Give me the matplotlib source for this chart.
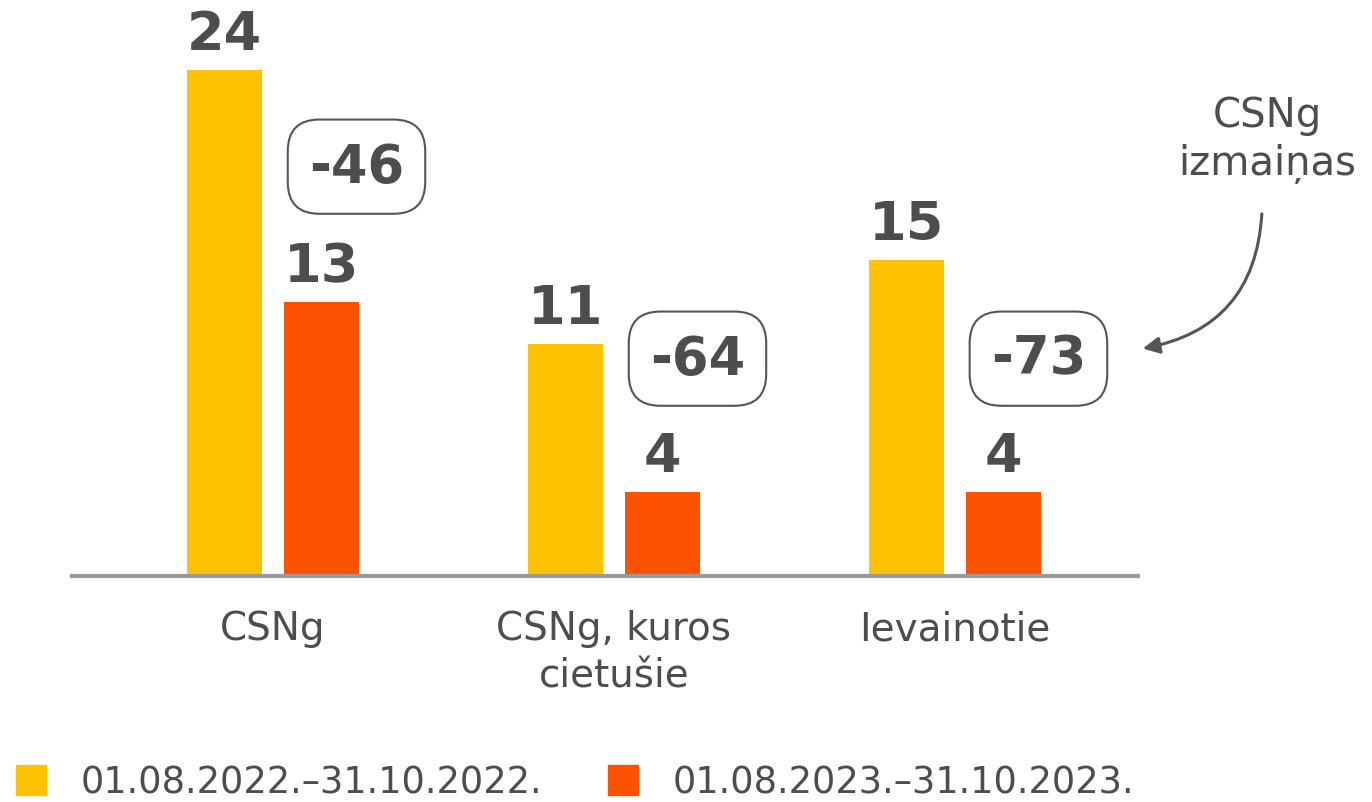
import matplotlib.pyplot as plt
from matplotlib.lines import Line2D
import numpy as np

# Data
kategorijas = ['CSNg', 'CSNg, kuros\ncietušie', 'Ievainotie']
periods_2022 = [24, 11, 15]
periods_2023 = [13, 4, 4]
izmainas = ['-46', '-64', '-73']
legendas = ['01.08.2022.–31.10.2022.', '01.08.2023.–31.10.2023.']

dzeltena = '#FFC200'
oranza = '#FF5200'
teksts = '#4d4d4d'

plt.rcParams['font.family'] = ['DejaVu Sans']

W, H = 1372, 803
fig = plt.figure(figsize=(W / 100, H / 100), dpi=100)
ax = fig.add_axes([72 / W, (H - 577) / H, 1066 / W, 577 / H])

x = np.arange(len(kategorijas))
plat = 0.22
nob = 0.142
ax.bar(x - nob, periods_2022, plat, color=dzeltena)
ax.bar(x + nob, periods_2023, plat, color=oranza)

# vērtības virs stabiņiem
for xi, v in zip(x - nob, periods_2022):
    ax.annotate(str(v), (xi, v), xytext=(0, 7), textcoords='offset points',
                ha='center', va='bottom', fontsize=39, weight='bold', color=teksts)
for xi, v in zip(x + nob, periods_2023):
    ax.annotate(str(v), (xi, v), xytext=(0, 7), textcoords='offset points',
                ha='center', va='bottom', fontsize=39, weight='bold', color=teksts)

# izmaiņu rāmīši
kastes_y = [19.4, 10.3, 10.3]
for xi, t, yk in zip(x, izmainas, kastes_y):
    ax.text(xi + 0.245, yk, t, ha='center', va='center', fontsize=38,
            weight='bold', color=teksts,
            bbox=dict(boxstyle='round,pad=0.4,rounding_size=0.6',
                      fc='white', ec='#555555', lw=1.5))

ax.set_xlim(-0.5894, 2.537)
ax.set_ylim(0, 577 / 21.1)
ax.set_xticks(x)
ax.set_xticklabels(kategorijas, fontsize=28, color=teksts, linespacing=1.3)
ax.tick_params(axis='x', length=0, pad=24)
ax.set_yticks([])
for s in ['top', 'right', 'left']:
    ax.spines[s].set_visible(False)
ax.spines['bottom'].set_color('#999999')
ax.spines['bottom'].set_linewidth(3)

# anotācija labajā pusē
fig.text(1267 / W, 1 - 140 / H, 'CSNg\nizmaiņas', ha='center', va='center',
         fontsize=29, color=teksts, linespacing=1.25)
ax.annotate('', xy=(1140, H - 350), xycoords='figure pixels',
            xytext=(1262, H - 212), textcoords='figure pixels',
            arrowprops=dict(arrowstyle='-|>,head_length=1.0,head_width=0.5',
                            color='#555555', lw=2.2,
                            connectionstyle='arc3,rad=-0.4'))

# leģenda
roktura = [Line2D([], [], ls='', marker='s', markersize=22, color=c)
           for c in (dzeltena, oranza)]
leg = fig.legend(roktura, legendas, loc='lower left', bbox_to_anchor=(-0.007, -0.026),
                 ncol=2, frameon=False, fontsize=26.5, handlelength=1.0,
                 handletextpad=0.85, columnspacing=1.7, borderaxespad=0.2)
for t in leg.get_texts():
    t.set_color(teksts)

plt.savefig('out.png', dpi=100)
